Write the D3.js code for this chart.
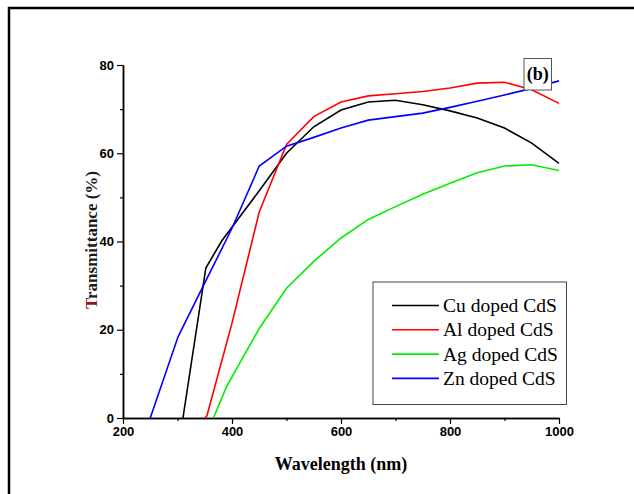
<!DOCTYPE html>
<html>
<head>
<meta charset="utf-8">
<script src="https://cdn.jsdelivr.net/npm/d3@7"></script>
<style>
  body { margin: 0; background: #fff; }
</style>
</head>
<body>
<div id="chart"></div>
<script>
// ---------------------- data ----------------------
var cuWave = [310, 352, 381, 450, 500, 550, 600, 650, 700, 750, 800, 850, 900, 950, 1000];
var cuT    = [0, 34, 40.1, 51.5, 60, 66, 69.8, 71.6, 72, 71, 69.6, 68, 65.7, 62.3, 57.7];

var alWave = [350, 354, 400, 450, 500, 550, 600, 650, 700, 750, 800, 850, 900, 950, 1000];
var alT    = [0, 0.5, 21.5, 46.7, 62, 68.3, 71.6, 73, 73.5, 74, 74.8, 75.9, 76.1, 74.4, 71.3];

var agWave = [366, 390, 450, 500, 550, 600, 650, 700, 750, 800, 850, 900, 950, 1000];
var agT    = [0, 7.1, 20.3, 29.4, 35.5, 40.8, 45, 47.9, 50.7, 53.2, 55.6, 57.1, 57.4, 56.1];

var znWave = [250, 301, 350, 400, 450, 500, 550, 600, 650, 700, 750, 800, 850, 900, 950, 1000];
var znT    = [0, 18.4, 30.6, 43, 57.1, 61.6, 63.6, 65.7, 67.5, 68.3, 69.1, 70.4, 71.8, 73.2, 74.7, 76.4];

var seriesNames  = ["Cu doped CdS", "Al doped CdS", "Ag doped CdS", "Zn doped CdS"];
var seriesColors = ["#000000", "#ff0000", "#00ee00", "#0000ff"];
var seriesX = [cuWave, alWave, agWave, znWave];
var seriesY = [cuT, alT, agT, znT];

var xTicks = [200, 400, 600, 800, 1000];
var xMinor = [300, 500, 700, 900];
var yTicks = [0, 20, 40, 60, 80];
var yMinor = [10, 30, 50, 70];

// ---------------------- svg + frame ----------------------
var W = 634, H = 494;
var svg = d3.select("#chart")
     .append("svg")
     .attr("width", W)
     .attr("height", H);

svg.append("path")
     .attr("d", "M9,494 L9,8 L634,8")
     .attr("fill", "none")
     .attr("stroke", "#000")
     .attr("stroke-width", 2.5);

var x = d3.scaleLinear().domain([200, 1000]).range([123, 559]);
var y = d3.scaleLinear().domain([0, 80]).range([418, 65]);

// ---------------------- axes ----------------------
svg.append("g")
     .attr("transform", "translate(0,418)")
     .call(d3.axisBottom(x).tickValues(xTicks).tickFormat(d3.format("d"))
          .tickSize(6).tickPadding(3).tickSizeOuter(0));
svg.append("g")
     .attr("transform", "translate(0,418)")
     .call(d3.axisBottom(x).tickValues(xMinor).tickSize(3).tickFormat("").tickSizeOuter(0));

svg.append("g")
     .attr("transform", "translate(123,0)")
     .call(d3.axisLeft(y).tickValues(yTicks).tickFormat(d3.format("d"))
          .tickSize(6).tickPadding(3).tickSizeOuter(0));
svg.append("g")
     .attr("transform", "translate(123,0)")
     .call(d3.axisLeft(y).tickValues(yMinor).tickSize(3).tickFormat("").tickSizeOuter(0));

svg.selectAll(".domain").attr("stroke", "#000").attr("stroke-width", 1.5);
svg.selectAll(".tick line").attr("stroke", "#000").attr("stroke-width", 1.2);
svg.selectAll(".tick text")
     .style("font-family", "Arial, 'Liberation Sans', sans-serif")
     .style("font-weight", "bold")
     .style("font-size", "13px")
     .attr("fill", "#000");

// ---------------------- lines ----------------------
var line = d3.line()
     .x(function(d) { return x(d[0]); })
     .y(function(d) { return y(d[1]); });

seriesNames.forEach(function(name, i) {
     var pts = d3.zip(seriesX[i], seriesY[i]);
     svg.append("path")
          .datum(pts)
          .attr("d", line)
          .attr("fill", "none")
          .attr("stroke", seriesColors[i])
          .attr("stroke-width", 1.6);
});

// ---------------------- titles ----------------------
var yTitle = svg.append("text")
     .attr("transform", "translate(97,240) rotate(-90)")
     .attr("text-anchor", "middle")
     .style("font-family", "'Liberation Serif', 'Times New Roman', serif")
     .style("font-weight", "bold")
     .style("font-size", "17px")
     .attr("fill", "#1a1a1a");
yTitle.append("tspan").attr("fill", "#8b1a1a").text("T");
yTitle.append("tspan").text("ransmittance (%)");

svg.append("text")
     .attr("x", 341)
     .attr("y", 470)
     .attr("text-anchor", "middle")
     .style("font-family", "'Liberation Serif', 'Times New Roman', serif")
     .style("font-weight", "bold")
     .style("font-size", "18px")
     .attr("fill", "#000")
     .text("Wavelength (nm)");

// ---------------------- (b) label ----------------------
svg.append("rect")
     .attr("x", 524).attr("y", 58.5)
     .attr("width", 27.5).attr("height", 31.5)
     .attr("fill", "#fff")
     .attr("stroke", "#555")
     .attr("stroke-width", 1);
svg.append("text")
     .attr("x", 537.8).attr("y", 80)
     .attr("text-anchor", "middle")
     .style("font-family", "'Liberation Serif', 'Times New Roman', serif")
     .style("font-weight", "bold")
     .style("font-size", "18px")
     .attr("fill", "#000")
     .text("(b)");

// ---------------------- legend ----------------------
svg.append("rect")
     .attr("x", 373).attr("y", 282)
     .attr("width", 193.5).attr("height", 122.5)
     .attr("fill", "#fff")
     .attr("stroke", "#444")
     .attr("stroke-width", 1);

var legend = svg.selectAll(".legend-item")
     .data(seriesNames)
     .enter()
     .append("g")
     .attr("class", "legend-item")
     .attr("transform", function(d, i) { return "translate(0," + (305.5 + i * 24.3) + ")"; });

legend.append("line")
     .attr("x1", 392).attr("x2", 439)
     .attr("y1", 0).attr("y2", 0)
     .attr("stroke", function(d, i) { return seriesColors[i]; })
     .attr("stroke-width", 1.6);

legend.append("text")
     .attr("x", 443)
     .attr("y", 6.5)
     .style("font-family", "'Liberation Serif', 'Times New Roman', serif")
     .style("font-size", "19.5px")
     .attr("fill", "#000")
     .text(function(d) { return d; });
</script>
</body>
</html>
